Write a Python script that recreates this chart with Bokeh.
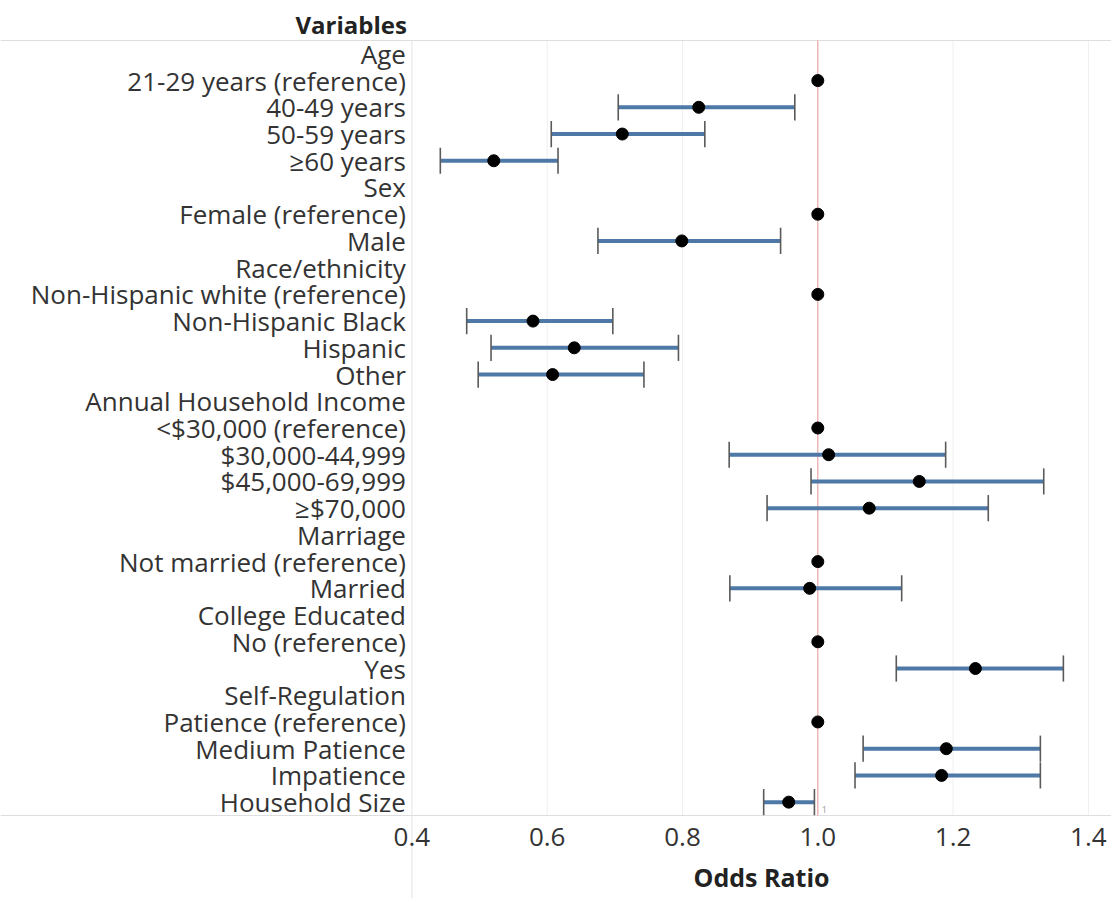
from bokeh.plotting import figure
from bokeh.models import ColumnDataSource, Range1d, FixedTicker, LinearAxis, NumeralTickFormatter
from bokeh.embed import file_html
from bokeh.resources import INLINE
from bokeh.core.properties import value

# ---------------- data ----------------
variables = [
    "Age", "21-29 years (reference)", "40-49 years", "50-59 years", "\u226560 years",
    "Sex", "Female (reference)", "Male",
    "Race/ethnicity", "Non-Hispanic white (reference)", "Non-Hispanic Black", "Hispanic", "Other",
    "Annual Household Income", "<$30,000 (reference)", "$30,000-44,999", "$45,000-69,999", "\u2265$70,000",
    "Marriage", "Not married (reference)", "Married",
    "College Educated", "No (reference)", "Yes",
    "Self-Regulation", "Patience (reference)", "Medium Patience", "Impatience",
    "Household Size",
]
odds_ratio = [
    None, 1.0, 0.824, 0.711, 0.521,
    None, 1.0, 0.799,
    None, 1.0, 0.579, 0.640, 0.608,
    None, 1.0, 1.016, 1.150, 1.076,
    None, 1.0, 0.988,
    None, 1.0, 1.233,
    None, 1.0, 1.190, 1.183,
    0.957,
]
ci_lower = [
    None, None, 0.705, 0.606, 0.442,
    None, None, 0.675,
    None, None, 0.481, 0.517, 0.498,
    None, None, 0.869, 0.990, 0.925,
    None, None, 0.870,
    None, None, 1.116,
    None, None, 1.067, 1.055,
    0.920,
]
ci_upper = [
    None, None, 0.966, 0.833, 0.616,
    None, None, 0.945,
    None, None, 0.697, 0.794, 0.743,
    None, None, 1.189, 1.334, 1.252,
    None, None, 1.124,
    None, None, 1.363,
    None, None, 1.329, 1.329,
    0.995,
]
x_ticks = [0.4, 0.6, 0.8, 1.0, 1.2, 1.4]
reference_value = 1.0
row_header = "Variables"
x_title = "Odds Ratio"

rows = list(range(len(variables)))
n = len(variables)
pts = ColumnDataSource(dict(
    y=[r for r, v in zip(rows, odds_ratio) if v is not None],
    x=[v for v in odds_ratio if v is not None],
))
cis = ColumnDataSource(dict(
    y=[r for r, lo in zip(rows, ci_lower) if lo is not None],
    lo=[lo for lo in ci_lower if lo is not None],
    hi=[hi for hi in ci_upper if hi is not None],
    y0=[r - 0.49 for r, lo in zip(rows, ci_lower) if lo is not None],
    y1=[r + 0.49 for r, lo in zip(rows, ci_lower) if lo is not None],
))

# ---------------- layout (pixels) ----------------
W, H = 1111, 898
PLOT_LEFT, PLOT_TOP, PLOT_BOTTOM = 411.4, 40.0, 815.0
PX_PER_UNIT = 676.5
row_px = (PLOT_BOTTOM - PLOT_TOP) / n

x_lo = x_ticks[0] - PLOT_LEFT / PX_PER_UNIT
x_hi = x_ticks[0] + (W - PLOT_LEFT) / PX_PER_UNIT
y_top = -0.5 - PLOT_TOP / row_px
y_bot = n - 0.5 + (H - PLOT_BOTTOM) / row_px

FONT = "Open Sans"
TXT = "#333333"

p = figure(width=W, height=H, x_range=Range1d(x_lo, x_hi), y_range=Range1d(y_bot, y_top),
           output_backend="svg", toolbar_location=None,
           x_axis_location=None, y_axis_location=None, min_border=0)
p.outline_line_color = None
p.background_fill_color = "white"
p.border_fill_color = "white"
p.xgrid.visible = False
p.ygrid.visible = False

# row labels (y axis pinned at the left edge of the plot area)
yax = LinearAxis(fixed_location=x_ticks[0])
yax.ticker = FixedTicker(ticks=rows)
yax.major_label_overrides = {r: lab for r, lab in zip(rows, variables)}
yax.axis_line_color = None
yax.major_tick_line_color = None
yax.minor_tick_line_color = None
yax.major_label_text_font = FONT
yax.major_label_text_font_size = "26px"
yax.major_label_text_color = TXT
yax.major_label_standoff = 0
p.add_layout(yax, "left")

# odds-ratio axis pinned at the bottom of the plot area
xax = LinearAxis(fixed_location=n - 0.5, bounds=(x_ticks[0], x_hi))
xax.ticker = FixedTicker(ticks=x_ticks)
xax.formatter = NumeralTickFormatter(format="0.0")
xax.axis_line_color = None
xax.major_tick_line_color = None
xax.minor_tick_line_color = None
xax.major_label_text_font = FONT
xax.major_label_text_font_size = "26px"
xax.major_label_text_color = TXT
xax.major_label_standoff = 6
xax.axis_label = x_title
xax.axis_label_text_font = FONT
xax.axis_label_text_font_size = "25px"
xax.axis_label_text_font_style = "bold"
xax.axis_label_text_color = "#222222"
xax.axis_label_standoff = 11
p.add_layout(xax, "below")

# vertical grid lines inside the plot area
p.segment(x0=x_ticks[1:], y0=[-0.5] * (len(x_ticks) - 1), x1=x_ticks[1:], y1=[n - 0.5] * (len(x_ticks) - 1),
          line_color="#efefef", line_width=1)
# table rules
p.segment(x0=[x_lo, x_lo], y0=[-0.5, n - 0.5], x1=[x_hi, x_hi], y1=[-0.5, n - 0.5],
          line_color="#dedede", line_width=1)
p.segment(x0=[x_ticks[0]], y0=[-0.5], x1=[x_ticks[0]], y1=[y_bot], line_color="#e3e3e3", line_width=1)

# reference line
p.segment(x0=[reference_value], y0=[-0.5], x1=[reference_value], y1=[n - 0.5],
          line_color="#ec9c9c", line_width=1)

# error bars
p.segment(x0="lo", y0="y", x1="hi", y1="y", source=cis, line_color="#4e79a7", line_width=4)
p.segment(x0="lo", y0="y0", x1="lo", y1="y1", source=cis, line_color="#5a5a5a", line_width=1.6)
p.segment(x0="hi", y0="y0", x1="hi", y1="y1", source=cis, line_color="#5a5a5a", line_width=1.6)

# point estimates
p.scatter(x="x", y="y", source=pts, size=12, fill_color="black", line_color="black")

# small reference-line label
p.text(x=[reference_value], y=[n - 1], text=["1"], x_offset=4, y_offset=7,
       text_font=value(FONT), text_font_size="9px", text_color="#999999",
       text_align="left", text_baseline="middle")

# row header title
p.text(x=[x_ticks[0]], y=[-0.5], text=[row_header], x_offset=-5, y_offset=-16,
       text_font=value(FONT), text_font_size="24px", text_font_style="bold",
       text_color="#222222", text_align="right", text_baseline="middle")

open("out.html", "w").write(file_html(p, INLINE))
